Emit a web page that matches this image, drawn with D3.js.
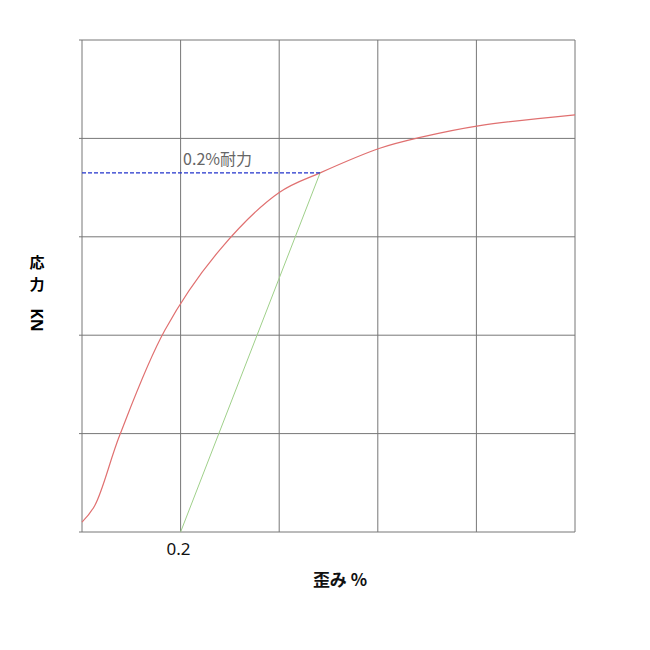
<!DOCTYPE html>
<html><head><meta charset="utf-8">
<script src="https://d3js.org/d3.v7.min.js"></script>
<style>body{margin:0;background:#fff}</style></head>
<body><svg id="c" width="650" height="650"></svg>
<script>
const strain = [0, 0.026, 0.077, 0.168, 0.28, 0.40, 0.483, 0.604, 0.686, 0.807, 1.0];
const stress = [0.10, 0.27, 0.99, 2.05, 2.87, 3.45, 3.65, 3.90, 4.01, 4.13, 4.24];
const offsetLine = [[0.2, 0], [0.483, 3.65]];
const proofStress = 3.65;
const xTickLabels = [{v:0.2, t:"0.2"}];
const svg = d3.select("#c");
const x = d3.scaleLinear().domain([0,1]).range([82,575]);
const y = d3.scaleLinear().domain([0,5]).range([532,40]);
const g = svg.append("g");
d3.range(0,1.01,0.2).forEach(v=>g.append("line").attr("x1",x(v)).attr("x2",x(v)).attr("y1",y(0)).attr("y2",y(5)).attr("stroke","#777").attr("stroke-width",1));
d3.range(0,5.01,1).forEach(v=>g.append("line").attr("x1",x(0)).attr("x2",x(1)).attr("y1",y(v)).attr("y2",y(v)).attr("stroke","#777").attr("stroke-width",1));
d3.range(0,5.01,1).forEach(v=>g.append("line").attr("x1",x(0)-3).attr("x2",x(0)).attr("y1",y(v)).attr("y2",y(v)).attr("stroke","#777"));
svg.append("path").datum(strain.map((s,i)=>[s,stress[i]]))
 .attr("d",d3.line().x(d=>x(d[0])).y(d=>y(d[1])).curve(d3.curveCatmullRom))
 .attr("fill","none").attr("stroke","#e07070").attr("stroke-width",1.2);
svg.append("path").datum(offsetLine).attr("d",d3.line().x(d=>x(d[0])).y(d=>y(d[1])))
 .attr("stroke","#9fd08a").attr("stroke-width",1);
svg.append("line").attr("x1",x(0)).attr("x2",x(0.483)).attr("y1",y(proofStress)).attr("y2",y(proofStress))
 .attr("stroke","#2233cc").attr("stroke-dasharray","4,2").attr("stroke-width",1.2);
svg.append("text").attr("x",x(0.205)).attr("y",y(proofStress)-8).text("0.2%耐力")
 .attr("font-family","Noto Sans CJK JP").attr("font-size",16).attr("fill","#666");
xTickLabels.forEach(d=>svg.append("text").attr("x",x(d.v)-2).attr("y",555).attr("text-anchor","middle")
 .attr("font-family","Noto Sans").attr("font-size",17).attr("fill","#111").text(d.t));
svg.append("text").attr("x",340).attr("y",586).attr("text-anchor","middle").attr("font-family","Noto Sans CJK JP")
 .attr("font-size",17).attr("font-weight","bold").attr("fill","#111").text("歪み %");
svg.append("text").attr("x",37).attr("y",268).attr("text-anchor","middle").attr("font-family","Noto Sans CJK JP")
 .attr("font-size",15).attr("font-weight","bold").text("応");
svg.append("text").attr("x",37).attr("y",290).attr("text-anchor","middle").attr("font-family","Noto Sans CJK JP")
 .attr("font-size",15).attr("font-weight","bold").text("力");
svg.append("text").attr("transform","translate(31,320) rotate(90)").attr("text-anchor","middle")
 .attr("font-family","Noto Sans").attr("font-size",16).attr("font-weight","bold").text("KN");
</script></body></html>
